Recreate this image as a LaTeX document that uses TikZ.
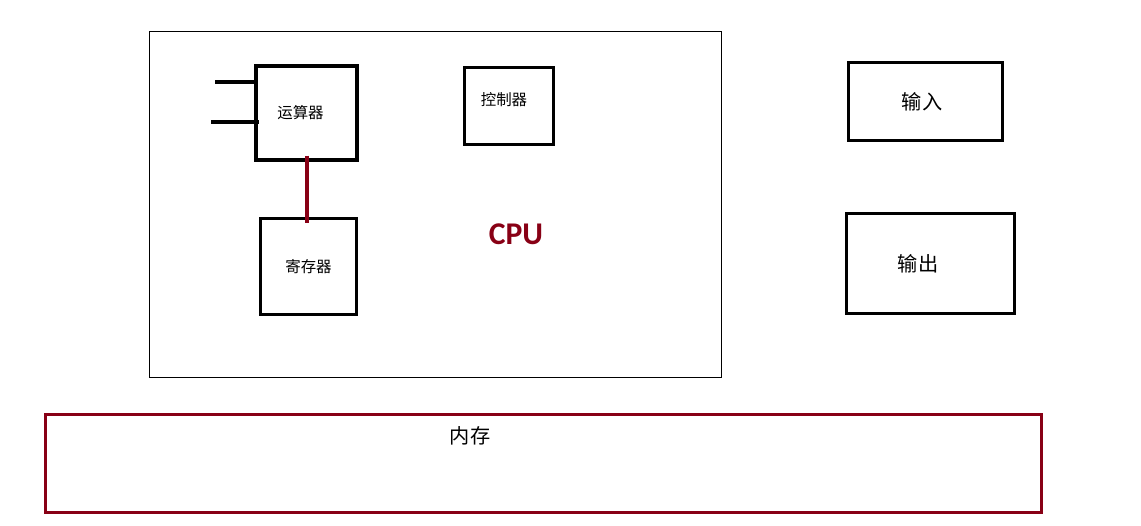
\documentclass[tikz,border=0pt]{standalone}
\usepackage{fontspec}
\setmainfont{Carlito}
\newfontfamily\cjk{Noto Sans CJK SC}
\usetikzlibrary{positioning}
\definecolor{darkred}{RGB}{136,0,21}
\tikzset{x = 0.02cm, y = -0.02cm,
  box/.style = {draw, line width = 1.9pt, inner sep = 0pt},
  unit/.style = {box, font = \cjk\fontsize{8.8}{10}\selectfont},
  device/.style = {box, font = \cjk\fontsize{11.5}{13}\selectfont},
  wire/.style = {line width = 1.9pt}}

\begin{document}
\begin{tikzpicture}
    \useasboundingbox (0,0) rectangle (1141,525);
    % cpu frame
    \node [draw, line width = 0.6pt, minimum width = 11.44cm, minimum height = 6.92cm] (cpu) at (435.5,204.5) {};
    \node [text = darkred, font = \bfseries\fontsize{18}{21}\selectfont] (cputxt) at (516,234) {CPU};
    \node [unit, minimum width = 2.02cm, minimum height = 1.88cm,
      label = {[xshift = -0.12cm, font = \cjk\fontsize{8.8}{10}\selectfont]center:运算器}] (alu) at (306.5,113) {};
    \node [unit, minimum width = 1.93cm, minimum height = 1.93cm] (reg) at (308.5,266.5) {寄存器};
    \node [unit, minimum width = 1.78cm, minimum height = 1.54cm,
      label = {[xshift = -0.1cm, yshift = 0.12cm, font = \cjk\fontsize{8.8}{10}\selectfont]center:控制器}] (ctl) at (509,106) {};
    % devices
    \node [device, minimum width = 3.08cm, minimum height = 1.56cm,
      label = {[xshift = -0.07cm, font = \cjk\fontsize{11.5}{13}\selectfont]center:输入}] (in) at (925.5,101.5) {};
    \node [device, minimum width = 3.36cm, minimum height = 2.00cm,
      label = {[xshift = -0.25cm, font = \cjk\fontsize{11.5}{13}\selectfont]center:输出}] (out) at (930.5,263.5) {};
    \node [box, draw = darkred, minimum width = 19.92cm, minimum height = 1.96cm] (mem) at (543.5,463.5) {};
    \node [font = \cjk\fontsize{11.5}{13}\selectfont] (memtxt) at (470,436) {内存};
    % wires
    \coordinate (a1) at (215,82);
    \coordinate (a2) at (211,122);
    \draw [wire] (a1) -- (a1 -| alu.west);
    \draw [wire] (a2) -- ([xshift = 0.1cm] a2 -| alu.west);
    \draw [wire, draw = darkred] ([yshift = 0.12cm] alu.south -| 307,0) -- ([yshift = -0.12cm] reg.north -| 307,0);
\end{tikzpicture}
\end{document}
